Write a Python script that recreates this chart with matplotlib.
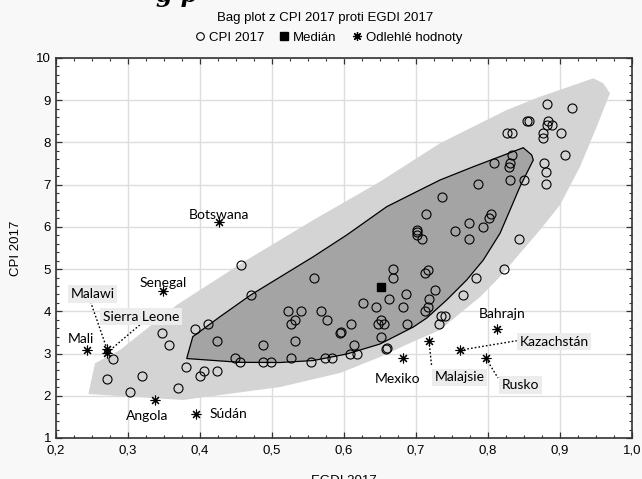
import matplotlib
matplotlib.use("Agg")
import matplotlib.pyplot as plt
from matplotlib.ticker import MultipleLocator, FuncFormatter
from matplotlib.lines import Line2D

# ---- data ----
cpi_x = [0.279, 0.271, 0.303, 0.320, 0.347, 0.357, 0.370, 0.381, 0.393, 0.400,
         0.406, 0.4115, 0.423, 0.423, 0.448, 0.455, 0.4565, 0.471, 0.488, 0.487,
         0.498, 0.522, 0.540, 0.532, 0.526, 0.5315, 0.526, 0.554, 0.558, 0.568,
         0.576, 0.574, 0.584, 0.594, 0.596, 0.609, 0.618, 0.614, 0.610, 0.626,
         0.645, 0.652, 0.647, 0.656, 0.652, 0.658, 0.660, 0.663, 0.668, 0.668,
         0.682, 0.686, 0.688, 0.702, 0.702, 0.701, 0.709, 0.712, 0.7167, 0.714,
         0.7125, 0.716, 0.7185, 0.727, 0.732, 0.735, 0.740, 0.7357, 0.754, 0.765,
         0.773, 0.774, 0.784, 0.7866, 0.7935, 0.801, 0.804, 0.809, 0.822, 0.827,
         0.8296, 0.8306, 0.8306, 0.833, 0.834, 0.8426, 0.850, 0.8537, 0.857, 0.876,
         0.877, 0.878, 0.880, 0.880, 0.8815, 0.883, 0.8815, 0.889, 0.901, 0.907,
         0.916]
cpi_y = [2.88, 2.39, 2.09, 2.48, 3.49, 3.20, 2.19, 2.69, 3.58, 2.48,
         2.59, 3.70, 3.30, 2.59, 2.89, 2.79, 5.10, 4.39, 3.20, 2.80,
         2.80, 4.00, 4.00, 3.79, 3.70, 3.30, 2.89, 2.79, 4.80, 4.00,
         3.79, 2.89, 2.89, 3.49, 3.51, 2.99, 2.99, 3.20, 3.70, 4.20,
         4.10, 3.80, 3.70, 3.70, 3.39, 3.10, 3.12, 4.30, 5.00, 4.80,
         4.10, 4.40, 3.70, 5.92, 5.88, 5.80, 5.71, 4.00, 4.10, 6.31,
         4.90, 4.99, 4.30, 4.50, 3.70, 3.90, 3.90, 6.70, 5.91, 4.39,
         6.10, 5.71, 4.79, 7.01, 6.00, 6.20, 6.31, 7.51, 5.01, 8.22,
         7.41, 7.51, 7.11, 7.71, 8.22, 5.71, 7.11, 8.51, 8.51, 8.22,
         8.11, 7.51, 7.31, 7.01, 8.92, 8.51, 8.41, 8.41, 8.22, 7.71,
         8.81]

median_x = [0.652]
median_y = [4.58]

outlier_names = ["Botswana", "Senegal", "Malawi", "Sierra Leone", "Mali", "Angola",
                 "Súdán", "Mexiko", "Malajsie", "Kazachstán", "Rusko", "Bahrajn"]
outlier_x = [0.426, 0.349, 0.271, 0.271, 0.243, 0.338, 0.394, 0.6825, 0.718, 0.761, 0.797, 0.812]
outlier_y = [6.11, 4.49, 3.10, 3.02, 3.08, 1.89, 1.58, 2.89, 3.30, 3.08, 2.89, 3.58]

# bag (inner hull) and loop (fence) outlines
bag_x = [0.390, 0.4278, 0.4704, 0.5574, 0.6038, 0.6593, 0.6963, 0.7333, 0.7796, 0.849,
         0.8607, 0.8629, 0.8444, 0.8306, 0.8167, 0.7935, 0.7704, 0.7426, 0.7149, 0.6963,
         0.650, 0.6038, 0.5574, 0.5111, 0.4556, 0.3815]
bag_y = [3.399, 3.873, 4.387, 5.294, 5.808, 6.478, 6.795, 7.110, 7.425, 7.875,
         7.703, 7.584, 6.952, 6.400, 5.848, 5.216, 4.742, 4.268, 3.842, 3.629,
         3.226, 2.989, 2.835, 2.788, 2.792, 2.882]
loop_x = [0.2449, 0.2542, 0.2889, 0.3676, 0.4649, 0.5574, 0.650, 0.7333, 0.826, 0.8722,
          0.9463, 0.9601, 0.9694, 0.951, 0.9278, 0.900, 0.8722, 0.8444, 0.8167, 0.7889,
          0.7611, 0.7333, 0.6917, 0.650, 0.5944, 0.5111, 0.3764]
loop_y = [2.042, 2.769, 3.084, 4.150, 5.216, 6.163, 7.070, 7.980, 8.768, 9.083,
          9.519, 9.401, 9.164, 8.373, 7.425, 6.518, 5.926, 5.374, 4.820, 4.339,
          3.953, 3.558, 3.250, 2.918, 2.539, 2.207, 1.900]

# label positions (text centre) and leader endpoints
label_x = [0.4257, 0.3486, 0.2507, 0.318, 0.234, 0.3264, 0.4396, 0.6743, 0.7607, 0.8917, 0.8449, 0.819]
label_y = [6.293, 4.678, 4.410, 3.877, 3.344, 1.521, 1.568, 2.397, 2.433, 3.285, 2.255, 3.937]
leader_x = [None, None, 0.2486, 0.3194, None, None, None, None, 0.7218, 0.8399, 0.8139, None]
leader_y = [None, None, 4.197, 3.723, None, None, None, None, 2.689, 3.304, 2.42, None]

# ---- figure ----
W, H = 642, 479
fig = plt.figure(figsize=(W / 100, H / 100), dpi=100, facecolor="#f8f8f8")
ax = fig.add_axes([56 / W, 1 - 438 / H, (632 - 56) / W, (438 - 58) / H])
ax.set_facecolor("white")

ax.fill(loop_x, loop_y, color="#d4d4d4", lw=0, zorder=1)
ax.fill(bag_x, bag_y, facecolor="#a4a4a4", edgecolor="black", lw=0.9, zorder=2)

ax.plot(cpi_x, cpi_y, ls="none", marker="o", ms=6.5, mfc="none", mec="black", mew=0.8, zorder=4)
ax.plot(median_x, median_y, ls="none", marker="s", ms=6, color="black", zorder=5)
ax.plot(outlier_x, outlier_y, ls="none", marker=(8, 2, 0), ms=7, color="black", mew=0.8, zorder=5)

lab_font = "Lato"
for name, ox, oy, tx, ty, lx, ly in zip(outlier_names, outlier_x, outlier_y, label_x, label_y, leader_x, leader_y):
    if lx is not None:
        ax.plot([ox, lx], [oy, ly], ls=(0, (1.2, 1.5)), color="black", lw=1.0, zorder=6)
        ax.text(tx, ty, name, ha="center", va="center", fontsize=10, family=lab_font, zorder=7,
                bbox=dict(boxstyle="square,pad=0.2", facecolor="#ececec", edgecolor="none"))
    else:
        ax.text(tx, ty, name, ha="center", va="center", fontsize=10, family=lab_font, zorder=7)

ax.set_xlim(0.2, 1.0)
ax.set_ylim(1, 10)
ax.xaxis.set_major_locator(MultipleLocator(0.1))
ax.xaxis.set_minor_locator(MultipleLocator(0.025))
ax.yaxis.set_major_locator(MultipleLocator(1))
ax.yaxis.set_minor_locator(MultipleLocator(0.2))
ax.xaxis.set_major_formatter(FuncFormatter(lambda v, p: f"{v:.1f}".replace(".", ",")))
ax.yaxis.set_major_formatter(FuncFormatter(lambda v, p: f"{v:.0f}"))
ax.tick_params(which="both", direction="in", top=True, right=True, colors="#333333",
               labelcolor="black", labelsize=9.5)
ax.tick_params(which="major", length=4, width=0.9)
ax.tick_params(which="minor", length=2.5, width=0.8)
ax.tick_params(axis="x", which="major", pad=5)
for lab in ax.get_xticklabels() + ax.get_yticklabels():
    lab.set_family("Liberation Sans")
ax.grid(True, which="major", color="#dcdcdc", lw=1.0, zorder=0)
ax.set_axisbelow(True)
for s in ax.spines.values():
    s.set_color("#333333")
    s.set_linewidth(1.2)

ax.set_xlabel("EGDI 2017", family="Liberation Sans", fontsize=9.5, labelpad=13)
ax.set_ylabel("CPI 2017", family="Liberation Sans", fontsize=9.5, labelpad=10)

fig.text(325 / W, 1 - 18 / H, "Bag plot z CPI 2017 proti EGDI 2017", ha="center", va="center",
         family="Liberation Sans", fontsize=9.5)
handles = [Line2D([], [], ls="none", marker="o", ms=5.5, mfc="none", mec="black", mew=0.8),
           Line2D([], [], ls="none", marker="s", ms=5.5, color="black"),
           Line2D([], [], ls="none", marker=(8, 2, 0), ms=6.5, color="black", mew=0.9)]
fig.legend(handles, ["CPI 2017", "Medián", "Odlehlé hodnoty"], loc="center",
           bbox_to_anchor=(327 / W, 1 - 38 / H), ncol=3, frameon=False,
           prop=dict(family="Liberation Sans", size=9.5), handletextpad=0.1,
           columnspacing=0.9, handlelength=1.2, borderpad=0)

fig.text(156 / W, 1 - 2 / H, "g p", ha="left", va="baseline", fontsize=17,
         fontweight="bold", style="italic", family="DejaVu Serif")

fig.savefig("out.png", dpi=100, facecolor=fig.get_facecolor())
